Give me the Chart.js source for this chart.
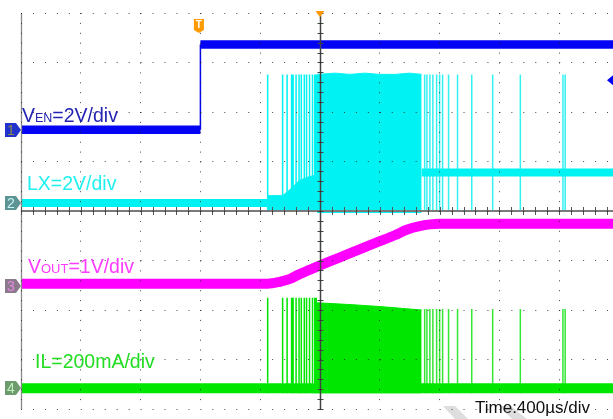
<!DOCTYPE html>
<html><head><meta charset="utf-8">
<script src="https://cdn.jsdelivr.net/npm/chart.js@4.4.1/dist/chart.umd.min.js"></script>
<style>
html,body{margin:0;padding:0;background:#fff;overflow:hidden;width:613px;height:419px}
#wrap{position:relative;width:640px;height:419px}
canvas{display:block}
</style></head>
<body><div id="wrap"><canvas id="c" width="640" height="419"></canvas></div>
<script>
// ---------- axes ----------
const timeTicksUs = [-1200,-800,-400,0,400,800,1200,1600,2000,2400,2800]; // 400 µs/div, trigger at 0
const screenDivs  = [0,1,2,3,4,5,6,7,8];
const timeCenterUs = [800];

// ---------- channel setup ----------
const channelNames = ['VEN','LX','VOUT','IL'];
const unitsPerDiv  = [2, 2, 1, 200];            // V, V, V, mA
const groundDiv    = [5.64, 4.16, 2.48, 0.42];  // channel reference level (div)
const ch1TriggerLevelV = [2.0];

// ---------- CH1 VEN (V) ----------
const venLowTime  = [-1200, 0];
const venLowVolt  = [0, 0];
const venEdgeTime = [0, 0];
const venEdgeVolt = [0, 3.45];
const venHighTime = [0, 2800];
const venHighVolt = [3.45, 3.45];

// ---------- CH2 LX (V) ----------
const lxIdleTime    = [-1200, 450];
const lxIdleVolt    = [0, 0];
const lxRampTime    = [450, 550, 600, 660, 720, 780];
const lxRampVolt    = [0.3, 0.3, 0.55, 0.9, 1.05, 1.15];
const lxRampFloor   = [-0.3];
const lxBurstTime   = [780, 900, 1000, 1100, 1200, 1300, 1400, 1480];
const lxBurstHigh   = [5.2, 5.25, 5.2, 5.25, 5.2, 5.2, 5.25, 5.2];
const lxBurstFloor  = [-0.4];
const lxSettledTime = [1480, 2800];
const lxSettledVolt = [1.24, 1.24];
const lxSpikeRange  = [-0.3, 5.2];

// switching pulses (µs) outside the continuous burst
const startPulseTimes = [450, 550, 580, 610, 620, 640, 660, 675, 695, 710, 730, 750, 765, 775];
const endPulseTimes   = [1500, 1515, 1535, 1555, 1580, 1600, 1620, 1660, 1720, 1815, 1955, 2140, 2425, 2440];

// ---------- CH3 VOUT (V) ----------
const voutTime = [-1200, 450, 530, 600, 660, 730, 800, 930, 1060, 1200, 1300, 1380, 1460, 1600, 2800];
const voutVolt = [0.05, 0.05, 0.09, 0.15, 0.24, 0.33, 0.42, 0.58, 0.74, 0.91, 1.03, 1.14, 1.21, 1.26, 1.26];

// ---------- CH4 IL (mA) ----------
const ilIdleTime   = [-1200, 2800];
const ilIdle       = [0, 0];
const ilBurstTime  = [780, 1000, 1200, 1480];
const ilBurstHigh  = [345, 338, 330, 316];
const ilBurstFloor = [-20];
const ilStartPulseRange = [-20, 365];
const ilEndPulseRange   = [-20, 320];

// ---------- helpers ----------
const toDiv = (ch, v) => groundDiv[ch] + v / unitsPerDiv[ch];
const pts = (ch, times, vals) => times.map((t, i) => ({x: t, y: toDiv(ch, vals[i])}));
const pulses = (ch, times, range) => {
  const out = [];
  times.forEach(t => { out.push({x: t, y: toDiv(ch, range[0])}, {x: t, y: toDiv(ch, range[1])}, {x: t, y: null}); });
  return out;
};

const BLUE = '#0404F4', CYAN = '#00F2F2', MAG = '#FF00FF', GREEN = '#00E600';

const datasets = [
  // CH1
  {data: pts(0, venLowTime, venLowVolt), borderColor: BLUE, borderWidth: 8.5},
  {data: pts(0, venEdgeTime, venEdgeVolt), borderColor: BLUE, borderWidth: 1.5},
  {data: pts(0, venHighTime, venHighVolt), borderColor: BLUE, borderWidth: 8.5},
  // CH3
  {data: pts(2, voutTime, voutVolt), borderColor: MAG, borderWidth: 10, cubicInterpolationMode: 'monotone'},
  // CH2
  {data: pts(1, lxIdleTime, lxIdleVolt), borderColor: CYAN, borderWidth: 8},
  {data: pts(1, lxSettledTime, lxSettledVolt), borderColor: CYAN, borderWidth: 8},
  {data: pts(1, lxRampTime, lxRampVolt), borderColor: CYAN, borderWidth: 1,
   fill: {value: toDiv(1, lxRampFloor[0])}, backgroundColor: CYAN},
  {data: pts(1, lxBurstTime, lxBurstHigh), borderColor: CYAN, borderWidth: 1,
   fill: {value: toDiv(1, lxBurstFloor[0])}, backgroundColor: CYAN},
  {data: pulses(1, startPulseTimes, lxSpikeRange), borderColor: CYAN, borderWidth: 1.5},
  {data: pulses(1, endPulseTimes, lxSpikeRange), borderColor: 'rgba(0,238,238,0.8)', borderWidth: 1.5},
  // CH4
  {data: pts(3, ilIdleTime, ilIdle), borderColor: GREEN, borderWidth: 10},
  {data: pts(3, ilBurstTime, ilBurstHigh), borderColor: GREEN, borderWidth: 1,
   fill: {value: toDiv(3, ilBurstFloor[0])}, backgroundColor: GREEN},
  {data: pulses(3, startPulseTimes, ilStartPulseRange), borderColor: GREEN, borderWidth: 1.5},
  {data: pulses(3, endPulseTimes, ilEndPulseRange), borderColor: 'rgba(0,225,0,0.8)', borderWidth: 1.5}
];

const FONT = "'Liberation Sans', Arial, sans-serif";

const scopeDecor = {
  id: 'scopeDecor',
  beforeDatasetsDraw(chart) {
    const c = chart.ctx;
    // faint watermark strokes
    c.save();
    c.fillStyle = '#DEDEDE';
    [[443, 455, 456, 469], [499, 511, 513, 528]].forEach(s => {
      c.beginPath();
      c.moveTo(s[0], 406); c.lineTo(s[1], 406); c.lineTo(s[3], 420); c.lineTo(s[2], 420); c.closePath(); c.fill();
    });
    c.restore();
  },
  afterDatasetsDraw(chart) {
    const c = chart.ctx, xs = chart.scales.x, ys = chart.scales.y, a = chart.chartArea;
    c.save();
    // left edge
    c.strokeStyle = '#8a8a8a'; c.lineWidth = 1.3;
    c.beginPath(); c.moveTo(a.left + 0.5, a.top); c.lineTo(a.left + 0.5, a.bottom); c.stroke();
    // horizontal center axis
    const yc = ys.getPixelForValue(4);
    c.strokeStyle = '#7a7a7a'; c.lineWidth = 2;
    c.beginPath(); c.moveTo(a.left, yc); c.lineTo(a.right, yc); c.stroke();
    c.strokeStyle = '#555'; c.lineWidth = 1;
    for (let t = -1200; t <= 2800; t += 80) {
      const x = Math.round(xs.getPixelForValue(t)) + 0.5;
      c.beginPath(); c.moveTo(x, yc - 4); c.lineTo(x, yc + 4); c.stroke();
    }
    // vertical center axis
    const xc = Math.round(xs.getPixelForValue(timeCenterUs[0])) + 0.5;
    c.strokeStyle = '#444'; c.lineWidth = 1.5;
    c.beginPath(); c.moveTo(xc, a.top); c.lineTo(xc, a.bottom); c.stroke();
    c.lineWidth = 1;
    for (let d = 0; d <= 8.001; d += 0.2) {
      const y = Math.round(ys.getPixelForValue(d)) + 0.5;
      c.beginPath(); c.moveTo(xc - 3, y); c.lineTo(xc + 3, y); c.stroke();
    }
    c.restore();
  },
  afterDraw(chart) {
    const c = chart.ctx, xs = chart.scales.x, ys = chart.scales.y, a = chart.chartArea;
    c.save();
    // channel reference markers
    const mk = [['#2233CC', '#8A8A50'], ['#5E9494', '#C8F4F4'], ['#8C7A8C', '#E38AE3'], ['#6E9A6E', '#C0F2C0']];
    mk.forEach((m, i) => {
      const cy = Math.round(ys.getPixelForValue(groundDiv[i]));
      const x0 = 5, x1 = a.left;
      c.fillStyle = m[0];
      c.beginPath();
      c.moveTo(x0, cy - 7); c.lineTo(x1 - 5, cy - 7); c.lineTo(x1, cy); c.lineTo(x1 - 5, cy + 7); c.lineTo(x0, cy + 7);
      c.closePath(); c.fill();
      c.fillStyle = m[1]; c.font = '14px ' + FONT; c.textAlign = 'center'; c.textBaseline = 'middle';
      c.fillText(String(i + 1), 11, cy + 1);
    });
    // trigger point marker "T"
    const xt = xs.getPixelForValue(0) - 1.5;
    c.fillStyle = '#FF9A00';
    c.beginPath();
    c.moveTo(xt - 5, 19); c.lineTo(xt + 5, 19); c.lineTo(xt + 5, 30); c.lineTo(xt, 33); c.lineTo(xt - 5, 30); c.closePath(); c.fill();
    c.fillStyle = '#fff'; c.font = 'bold 10px ' + FONT; c.textAlign = 'center'; c.textBaseline = 'middle';
    c.fillText('T', xt, 25.5);
    // horizontal position triangle
    const xc = xs.getPixelForValue(timeCenterUs[0]);
    c.fillStyle = '#FF9A00';
    c.beginPath(); c.moveTo(xc - 4.5, 11); c.lineTo(xc + 4.5, 11); c.lineTo(xc, 17); c.closePath(); c.fill();
    // ch1 trigger level arrow at right
    const yl = ys.getPixelForValue(toDiv(0, ch1TriggerLevelV[0]));
    c.fillStyle = BLUE;
    c.beginPath(); c.moveTo(607, yl); c.lineTo(613, yl - 5); c.lineTo(615, yl); c.lineTo(613, yl + 5); c.closePath(); c.fill();

    // labels
    c.textAlign = 'left'; c.textBaseline = 'alphabetic';
    const lab = (parts, x, y, color) => {
      c.fillStyle = color;
      let cx = x;
      parts.forEach(p => { c.font = p[1] + 'px ' + FONT; c.fillText(p[0], cx, y); cx += c.measureText(p[0]).width; });
    };
    lab([['V', 19.5], ['EN', 12.5], ['=2V/div', 19.5]], 22, 122, '#2424B4');
    lab([['LX=2V/div', 19.5]], 27, 190, '#22F0F0');
    lab([['V', 19.5], ['OUT', 13], ['=1V/div', 19.5]], 28, 273, '#FF3CFF');
    lab([['IL=200mA/div', 19.5]], 35, 368, '#22DD22');
    lab([['Time:400µs/div', 17]], 475, 413, '#111');
    c.restore();
  }
};

new Chart(document.getElementById('c').getContext('2d'), {
  type: 'line',
  data: {datasets: datasets},
  options: {
    responsive: false,
    animation: false,
    events: [],
    layout: {padding: {left: 21, right: 21, top: 13, bottom: 10}},
    plugins: {legend: {display: false}, tooltip: {enabled: false}, title: {display: false}},
    elements: {point: {radius: 0}, line: {tension: 0, borderCapStyle: 'butt', borderJoinStyle: 'round', fill: false}},
    scales: {
      x: {
        type: 'linear', min: timeTicksUs[0], max: timeTicksUs[timeTicksUs.length - 1],
        afterBuildTicks: ax => { ax.ticks = timeTicksUs.map(v => ({value: v})); },
        ticks: {display: false},
        grid: {color: 'rgba(40,40,40,0.85)', lineWidth: 1, drawTicks: false, z: 1},
        border: {display: false, dash: [1, 8.9]}
      },
      y: {
        type: 'linear', min: screenDivs[0], max: screenDivs[screenDivs.length - 1],
        afterBuildTicks: ax => { ax.ticks = screenDivs.map(v => ({value: v})); },
        ticks: {display: false},
        grid: {color: 'rgba(40,40,40,0.85)', lineWidth: 1, drawTicks: false, z: 1},
        border: {display: false, dash: [1, 10.96]}
      }
    }
  },
  plugins: [scopeDecor]
});
</script>
</body></html>
